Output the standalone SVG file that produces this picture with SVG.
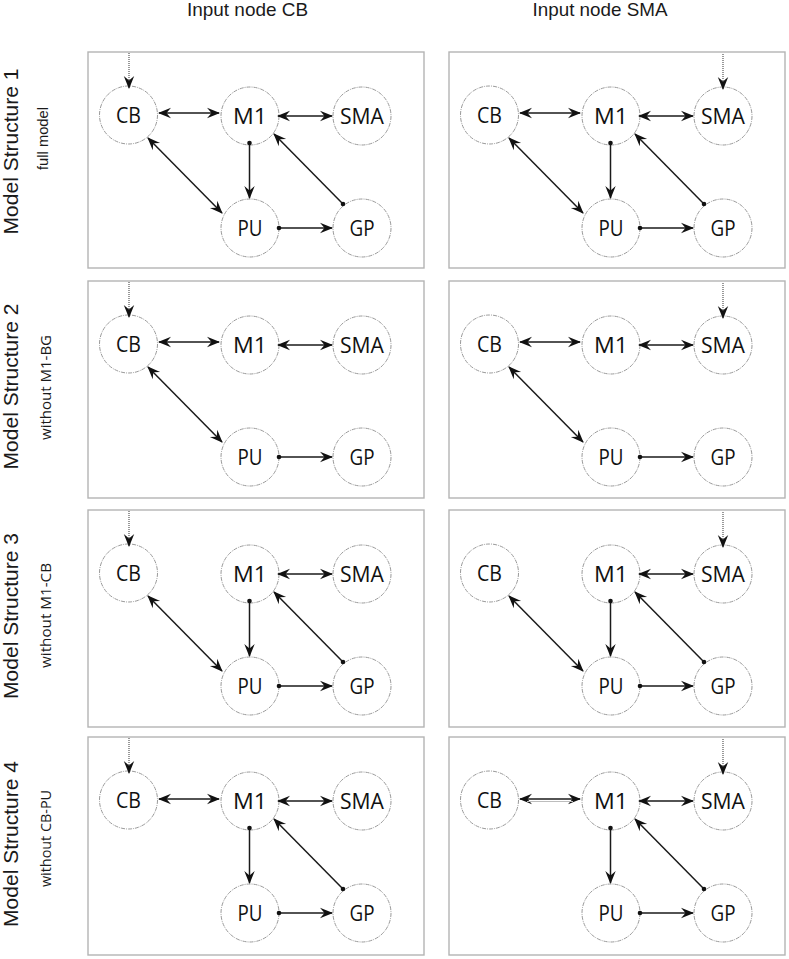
<svg xmlns="http://www.w3.org/2000/svg" width="789" height="959" viewBox="0 0 789 959">
<style>
.panel{fill:#fff;stroke:#b4b4b4;stroke-width:1.4}
.node circle{fill:#fff;stroke:#9a9a9a;stroke-width:1;stroke-dasharray:4 1 1 1}
.node text{font-family:"Open Sans","Liberation Sans",sans-serif;font-size:21px;fill:#111;text-anchor:middle}
.c{fill:none;stroke:#1a1a1a;stroke-width:1.5}
.bi{marker-start:url(#ah);marker-end:url(#ah)}
.dt{marker-start:url(#dot);marker-end:url(#ah)}
.in{fill:none;stroke:#555;stroke-width:1.2;stroke-dasharray:1 1;marker-end:url(#ah)}
.big{font-family:"Liberation Sans",Arial,sans-serif;font-size:21px;fill:#1a1a1a;text-anchor:middle}
.sub{font-family:"Open Sans","Liberation Sans",sans-serif;font-size:15px;fill:#1a1a1a;text-anchor:middle}
.sub2{font-family:"Liberation Sans",Arial,sans-serif;font-size:14px;fill:#1a1a1a;text-anchor:middle}
.title{font-family:"Liberation Sans",Arial,sans-serif;font-size:18.5px;fill:#1a1a1a;text-anchor:middle}
</style>
<defs>
<marker id="ah" viewBox="-14 -7 16 14" refX="0" refY="0" markerWidth="16" markerHeight="14" markerUnits="userSpaceOnUse" orient="auto-start-reverse"><path d="M1,0 L-12,-5.2 L-7.5,0 L-12,5.2 Z" fill="#111"/></marker>
<marker id="dot" viewBox="-3 -3 6 6" refX="0" refY="0" markerWidth="6" markerHeight="6" markerUnits="userSpaceOnUse"><circle r="2.3" fill="#111"/></marker>
</defs>
<rect width="789" height="959" fill="#fff"/>

<g id="titles">
<text class="title" x="247.5" y="16" textLength="121" lengthAdjust="spacingAndGlyphs">Input node CB</text>
<text class="title" x="600" y="16" textLength="135" lengthAdjust="spacingAndGlyphs">Input node SMA</text>
</g>

<g id="row-labels">
<text class="big" transform="translate(18,151.5) rotate(-90)">Model Structure 1</text>
<text class="sub2" transform="translate(48,138.5) rotate(-90)" textLength="63" lengthAdjust="spacingAndGlyphs">full model</text>
<text class="big" transform="translate(18,386.5) rotate(-90)">Model Structure 2</text>
<text class="sub" transform="translate(51,387.5) rotate(-90)" textLength="105" lengthAdjust="spacingAndGlyphs">without M1-BG</text>
<text class="big" transform="translate(18,616) rotate(-90)">Model Structure 3</text>
<text class="sub" transform="translate(51,615.5) rotate(-90)" textLength="105" lengthAdjust="spacingAndGlyphs">without M1-CB</text>
<text class="big" transform="translate(18,844) rotate(-90)">Model Structure 4</text>
<text class="sub" transform="translate(51,838.5) rotate(-90)" textLength="97" lengthAdjust="spacingAndGlyphs">without CB-PU</text>
</g>

<!-- Row 1 left -->
<g id="r1L" transform="translate(88,52)">
<rect class="panel" x="0" y="0" width="336" height="216"/>
<g id="r1L-CB" class="node"><circle cx="40.5" cy="63" r="29"/><text x="40.5" y="70.5" textLength="25" lengthAdjust="spacingAndGlyphs">CB</text></g>
<g id="r1L-M1" class="node"><circle cx="162" cy="64" r="29"/><text x="162" y="71.5" textLength="34" lengthAdjust="spacingAndGlyphs">M1</text></g>
<g id="r1L-SMA" class="node"><circle cx="274" cy="64" r="29"/><text x="274" y="71.5" textLength="44" lengthAdjust="spacingAndGlyphs">SMA</text></g>
<g id="r1L-PU" class="node"><circle cx="162" cy="176" r="29"/><text x="162" y="183.5" textLength="25" lengthAdjust="spacingAndGlyphs">PU</text></g>
<g id="r1L-GP" class="node"><circle cx="274" cy="176" r="29"/><text x="274" y="183.5" textLength="25" lengthAdjust="spacingAndGlyphs">GP</text></g>
<g id="r1L-edges">
<path class="in" d="M41,1 V36"/>
<path class="c bi" d="M71,61 H131"/>
<path class="c bi" d="M190,64 H244"/>
<path class="c dt" d="M161.5,91 V146"/>
<path class="c bi" d="M60,86 L134,161"/>
<path class="c dt" d="M255,152 L186,82"/>
<path class="c dt" d="M191,176 H244"/>
</g>
</g>

<!-- Row 1 right -->
<g id="r1R" transform="translate(449,52)">
<rect class="panel" x="0" y="0" width="336" height="216"/>
<g id="r1R-CB" class="node"><circle cx="40.5" cy="63" r="29"/><text x="40.5" y="70.5" textLength="25" lengthAdjust="spacingAndGlyphs">CB</text></g>
<g id="r1R-M1" class="node"><circle cx="162" cy="64" r="29"/><text x="162" y="71.5" textLength="34" lengthAdjust="spacingAndGlyphs">M1</text></g>
<g id="r1R-SMA" class="node"><circle cx="274" cy="64" r="29"/><text x="274" y="71.5" textLength="44" lengthAdjust="spacingAndGlyphs">SMA</text></g>
<g id="r1R-PU" class="node"><circle cx="162" cy="176" r="29"/><text x="162" y="183.5" textLength="25" lengthAdjust="spacingAndGlyphs">PU</text></g>
<g id="r1R-GP" class="node"><circle cx="274" cy="176" r="29"/><text x="274" y="183.5" textLength="25" lengthAdjust="spacingAndGlyphs">GP</text></g>
<g id="r1R-edges">
<path class="in" d="M274,2 V37"/>
<path class="c bi" d="M71,61 H131"/>
<path class="c bi" d="M190,64 H244"/>
<path class="c dt" d="M161.5,91 V146"/>
<path class="c bi" d="M60,86 L134,161"/>
<path class="c dt" d="M255,152 L186,82"/>
<path class="c dt" d="M191,176 H244"/>
</g>
</g>

<!-- Row 2 left -->
<g id="r2L" transform="translate(88,281)">
<rect class="panel" x="0" y="0" width="336" height="217"/>
<g id="r2L-CB" class="node"><circle cx="40.5" cy="63" r="29"/><text x="40.5" y="70.5" textLength="25" lengthAdjust="spacingAndGlyphs">CB</text></g>
<g id="r2L-M1" class="node"><circle cx="162" cy="64" r="29"/><text x="162" y="71.5" textLength="34" lengthAdjust="spacingAndGlyphs">M1</text></g>
<g id="r2L-SMA" class="node"><circle cx="274" cy="64" r="29"/><text x="274" y="71.5" textLength="44" lengthAdjust="spacingAndGlyphs">SMA</text></g>
<g id="r2L-PU" class="node"><circle cx="162" cy="176" r="29"/><text x="162" y="183.5" textLength="25" lengthAdjust="spacingAndGlyphs">PU</text></g>
<g id="r2L-GP" class="node"><circle cx="274" cy="176" r="29"/><text x="274" y="183.5" textLength="25" lengthAdjust="spacingAndGlyphs">GP</text></g>
<g id="r2L-edges">
<path class="in" d="M41,1 V36"/>
<path class="c bi" d="M71,61 H131"/>
<path class="c bi" d="M190,64 H244"/>
<path class="c bi" d="M60,86 L134,161"/>
<path class="c dt" d="M191,176 H244"/>
</g>
</g>

<!-- Row 2 right -->
<g id="r2R" transform="translate(449,281)">
<rect class="panel" x="0" y="0" width="336" height="217"/>
<g id="r2R-CB" class="node"><circle cx="40.5" cy="63" r="29"/><text x="40.5" y="70.5" textLength="25" lengthAdjust="spacingAndGlyphs">CB</text></g>
<g id="r2R-M1" class="node"><circle cx="162" cy="64" r="29"/><text x="162" y="71.5" textLength="34" lengthAdjust="spacingAndGlyphs">M1</text></g>
<g id="r2R-SMA" class="node"><circle cx="274" cy="64" r="29"/><text x="274" y="71.5" textLength="44" lengthAdjust="spacingAndGlyphs">SMA</text></g>
<g id="r2R-PU" class="node"><circle cx="162" cy="176" r="29"/><text x="162" y="183.5" textLength="25" lengthAdjust="spacingAndGlyphs">PU</text></g>
<g id="r2R-GP" class="node"><circle cx="274" cy="176" r="29"/><text x="274" y="183.5" textLength="25" lengthAdjust="spacingAndGlyphs">GP</text></g>
<g id="r2R-edges">
<path class="in" d="M274,2 V37"/>
<path class="c bi" d="M71,61 H131"/>
<path class="c bi" d="M190,64 H244"/>
<path class="c bi" d="M60,86 L134,161"/>
<path class="c dt" d="M191,176 H244"/>
</g>
</g>

<!-- Row 3 left -->
<g id="r3L" transform="translate(88,510)">
<rect class="panel" x="0" y="0" width="336" height="217"/>
<g id="r3L-CB" class="node"><circle cx="40.5" cy="63" r="29"/><text x="40.5" y="70.5" textLength="25" lengthAdjust="spacingAndGlyphs">CB</text></g>
<g id="r3L-M1" class="node"><circle cx="162" cy="64" r="29"/><text x="162" y="71.5" textLength="34" lengthAdjust="spacingAndGlyphs">M1</text></g>
<g id="r3L-SMA" class="node"><circle cx="274" cy="64" r="29"/><text x="274" y="71.5" textLength="44" lengthAdjust="spacingAndGlyphs">SMA</text></g>
<g id="r3L-PU" class="node"><circle cx="162" cy="176" r="29"/><text x="162" y="183.5" textLength="25" lengthAdjust="spacingAndGlyphs">PU</text></g>
<g id="r3L-GP" class="node"><circle cx="274" cy="176" r="29"/><text x="274" y="183.5" textLength="25" lengthAdjust="spacingAndGlyphs">GP</text></g>
<g id="r3L-edges">
<path class="in" d="M41,1 V36"/>
<path class="c bi" d="M190,64 H244"/>
<path class="c dt" d="M161.5,91 V146"/>
<path class="c bi" d="M60,86 L134,161"/>
<path class="c dt" d="M255,152 L186,82"/>
<path class="c dt" d="M191,176 H244"/>
</g>
</g>

<!-- Row 3 right -->
<g id="r3R" transform="translate(449,510)">
<rect class="panel" x="0" y="0" width="336" height="217"/>
<g id="r3R-CB" class="node"><circle cx="40.5" cy="63" r="29"/><text x="40.5" y="70.5" textLength="25" lengthAdjust="spacingAndGlyphs">CB</text></g>
<g id="r3R-M1" class="node"><circle cx="162" cy="64" r="29"/><text x="162" y="71.5" textLength="34" lengthAdjust="spacingAndGlyphs">M1</text></g>
<g id="r3R-SMA" class="node"><circle cx="274" cy="64" r="29"/><text x="274" y="71.5" textLength="44" lengthAdjust="spacingAndGlyphs">SMA</text></g>
<g id="r3R-PU" class="node"><circle cx="162" cy="176" r="29"/><text x="162" y="183.5" textLength="25" lengthAdjust="spacingAndGlyphs">PU</text></g>
<g id="r3R-GP" class="node"><circle cx="274" cy="176" r="29"/><text x="274" y="183.5" textLength="25" lengthAdjust="spacingAndGlyphs">GP</text></g>
<g id="r3R-edges">
<path class="in" d="M274,2 V37"/>
<path class="c bi" d="M190,64 H244"/>
<path class="c dt" d="M161.5,91 V146"/>
<path class="c bi" d="M60,86 L134,161"/>
<path class="c dt" d="M255,152 L186,82"/>
<path class="c dt" d="M191,176 H244"/>
</g>
</g>

<!-- Row 4 left -->
<g id="r4L" transform="translate(88,737)">
<rect class="panel" x="0" y="0" width="336" height="218"/>
<g id="r4L-CB" class="node"><circle cx="40.5" cy="63" r="29"/><text x="40.5" y="70.5" textLength="25" lengthAdjust="spacingAndGlyphs">CB</text></g>
<g id="r4L-M1" class="node"><circle cx="162" cy="64" r="29"/><text x="162" y="71.5" textLength="34" lengthAdjust="spacingAndGlyphs">M1</text></g>
<g id="r4L-SMA" class="node"><circle cx="274" cy="64" r="29"/><text x="274" y="71.5" textLength="44" lengthAdjust="spacingAndGlyphs">SMA</text></g>
<g id="r4L-PU" class="node"><circle cx="162" cy="176" r="29"/><text x="162" y="183.5" textLength="25" lengthAdjust="spacingAndGlyphs">PU</text></g>
<g id="r4L-GP" class="node"><circle cx="274" cy="176" r="29"/><text x="274" y="183.5" textLength="25" lengthAdjust="spacingAndGlyphs">GP</text></g>
<g id="r4L-edges">
<path class="in" d="M41,1 V36"/>
<path class="c bi" d="M71,62 H131"/>
<path class="c bi" d="M190,64 H244"/>
<path class="c dt" d="M161.5,91 V146"/>
<path class="c dt" d="M255,152 L186,82"/>
<path class="c dt" d="M191,176 H244"/>
</g>
</g>

<!-- Row 4 right -->
<g id="r4R" transform="translate(449,737)">
<rect class="panel" x="0" y="0" width="336" height="218"/>
<g id="r4R-CB" class="node"><circle cx="40.5" cy="63" r="29"/><text x="40.5" y="70.5" textLength="25" lengthAdjust="spacingAndGlyphs">CB</text></g>
<g id="r4R-M1" class="node"><circle cx="162" cy="64" r="29"/><text x="162" y="71.5" textLength="34" lengthAdjust="spacingAndGlyphs">M1</text></g>
<g id="r4R-SMA" class="node"><circle cx="274" cy="64" r="29"/><text x="274" y="71.5" textLength="44" lengthAdjust="spacingAndGlyphs">SMA</text></g>
<g id="r4R-PU" class="node"><circle cx="162" cy="176" r="29"/><text x="162" y="183.5" textLength="25" lengthAdjust="spacingAndGlyphs">PU</text></g>
<g id="r4R-GP" class="node"><circle cx="274" cy="176" r="29"/><text x="274" y="183.5" textLength="25" lengthAdjust="spacingAndGlyphs">GP</text></g>
<g id="r4R-edges">
<path class="in" d="M274,2 V37"/>
<path class="c bi" d="M71,62 H131"/>
<path d="M78,64.5 H124" fill="none" stroke="#bdbdbd" stroke-width="1"/>
<path class="c bi" d="M190,64 H244"/>
<path class="c dt" d="M161.5,91 V146"/>
<path class="c dt" d="M255,152 L186,82"/>
<path class="c dt" d="M191,176 H244"/>
</g>
</g>
</svg>
